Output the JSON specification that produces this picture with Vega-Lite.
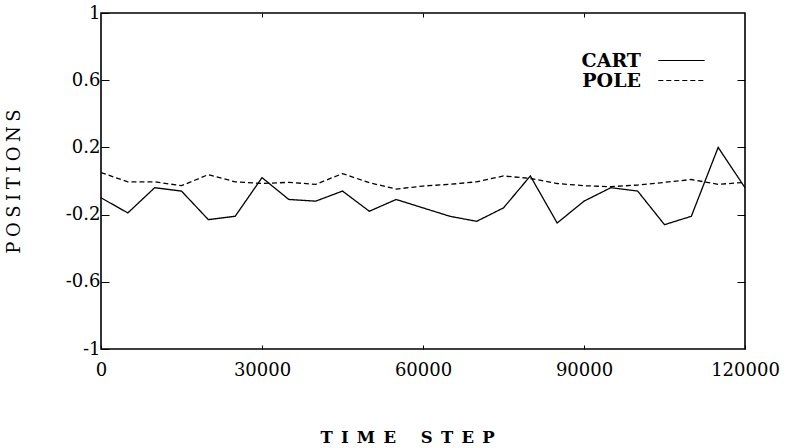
{
  "$schema": "https://vega.github.io/schema/vega-lite/v6.json",
  "width": 644,
  "height": 336,
  "autosize": "none",
  "padding": {"left": 101, "top": 13, "right": 48, "bottom": 99},
  "background": "white",
  "config": {
    "view": {"stroke": "black", "strokeWidth": 1.6},
    "font": "DejaVu Serif",
    "axis": {"domain": false, "grid": false, "tickColor": "black", "labelColor": "black", "titleColor": "black", "labelFont": "DejaVu Serif", "titleFont": "DejaVu Serif"}
  },
  "data": {
    "values": [
      {"step": 0, "series": "CART", "value": -0.10},
      {"step": 5000, "series": "CART", "value": -0.19},
      {"step": 10000, "series": "CART", "value": -0.04},
      {"step": 15000, "series": "CART", "value": -0.06},
      {"step": 20000, "series": "CART", "value": -0.23},
      {"step": 25000, "series": "CART", "value": -0.21},
      {"step": 30000, "series": "CART", "value": 0.02},
      {"step": 35000, "series": "CART", "value": -0.11},
      {"step": 40000, "series": "CART", "value": -0.12},
      {"step": 45000, "series": "CART", "value": -0.06},
      {"step": 50000, "series": "CART", "value": -0.18},
      {"step": 55000, "series": "CART", "value": -0.11},
      {"step": 60000, "series": "CART", "value": -0.16},
      {"step": 65000, "series": "CART", "value": -0.21},
      {"step": 70000, "series": "CART", "value": -0.24},
      {"step": 75000, "series": "CART", "value": -0.16},
      {"step": 80000, "series": "CART", "value": 0.03},
      {"step": 85000, "series": "CART", "value": -0.25},
      {"step": 90000, "series": "CART", "value": -0.12},
      {"step": 95000, "series": "CART", "value": -0.04},
      {"step": 100000, "series": "CART", "value": -0.06},
      {"step": 105000, "series": "CART", "value": -0.26},
      {"step": 110000, "series": "CART", "value": -0.21},
      {"step": 115000, "series": "CART", "value": 0.20},
      {"step": 120000, "series": "CART", "value": -0.04},
      {"step": 0, "series": "POLE", "value": 0.05},
      {"step": 5000, "series": "POLE", "value": -0.005},
      {"step": 10000, "series": "POLE", "value": -0.005},
      {"step": 15000, "series": "POLE", "value": -0.028},
      {"step": 20000, "series": "POLE", "value": 0.038},
      {"step": 25000, "series": "POLE", "value": -0.005},
      {"step": 30000, "series": "POLE", "value": -0.015},
      {"step": 35000, "series": "POLE", "value": -0.008},
      {"step": 40000, "series": "POLE", "value": -0.02},
      {"step": 45000, "series": "POLE", "value": 0.044},
      {"step": 50000, "series": "POLE", "value": -0.01},
      {"step": 55000, "series": "POLE", "value": -0.048},
      {"step": 60000, "series": "POLE", "value": -0.03},
      {"step": 65000, "series": "POLE", "value": -0.02},
      {"step": 70000, "series": "POLE", "value": -0.005},
      {"step": 75000, "series": "POLE", "value": 0.03},
      {"step": 80000, "series": "POLE", "value": 0.015},
      {"step": 85000, "series": "POLE", "value": -0.015},
      {"step": 90000, "series": "POLE", "value": -0.028},
      {"step": 95000, "series": "POLE", "value": -0.034},
      {"step": 100000, "series": "POLE", "value": -0.024},
      {"step": 105000, "series": "POLE", "value": -0.008},
      {"step": 110000, "series": "POLE", "value": 0.009},
      {"step": 115000, "series": "POLE", "value": -0.02},
      {"step": 120000, "series": "POLE", "value": -0.008}
    ]
  },
  "resolve": {"axis": {"x": "independent", "y": "independent"}},
  "layer": [
    {
      "mark": {"type": "line", "color": "black", "strokeWidth": 1.3},
      "encoding": {
        "x": {
          "field": "step", "type": "quantitative",
          "scale": {"domain": [0, 120000], "nice": false, "zero": false},
          "axis": {"values": [0, 30000, 60000, 90000, 120000], "labelExpr": "datum.value + ''", "tickSize": -4, "labelPadding": 16, "labelFontSize": 18, "labelBaseline": "top", "labelFlush": false, "title": "T\u2002I\u2002M\u2002E\u2003\u2002S\u2002T\u2002E\u2002P", "titleFontSize": 16.5, "titleFontWeight": "bold", "titleX": 306, "titleAlign": "center", "titleY": 93, "titleBaseline": "alphabetic"}
        },
        "y": {
          "field": "value", "type": "quantitative",
          "scale": {"domain": [-1, 1], "nice": false, "zero": false},
          "axis": {"values": [-1, -0.6, -0.2, 0.2, 0.6, 1], "labelExpr": "datum.value + ''", "tickSize": -8, "labelPadding": 9, "labelFontSize": 18, "labelFlush": false, "title": "P\u2005O\u2005S\u2005I\u2005T\u2005I\u2005O\u2005N\u2005S", "titleFontSize": 18, "titleFontWeight": "normal", "titleX": -87, "titleBaseline": "middle", "titleAngle": -90}
        },
        "strokeDash": {
          "field": "series", "type": "nominal",
          "scale": {"domain": ["CART", "POLE"], "range": [[1, 0], [5, 3]]},
          "legend": {"orient": "none", "legendX": 571, "legendY": 38, "title": null, "padding": 0, "symbolType": "M-2.9,0H2.9", "symbolSize": 256, "symbolStrokeWidth": 1.2, "symbolStrokeColor": "black", "symbolFillColor": "transparent", "labelAlign": "right", "labelOffset": -50, "labelFontSize": 19, "labelFontWeight": "bold", "labelFont": "DejaVu Serif", "labelColor": "black", "rowPadding": 0}
        }
      }
    },
    {
      "mark": {"type": "line", "opacity": 0},
      "encoding": {
        "x": {"field": "step", "type": "quantitative", "axis": {"orient": "top", "values": [30000, 60000, 90000], "tickSize": -4, "labels": false, "title": null}},
        "y": {"field": "value", "type": "quantitative", "axis": {"orient": "right", "values": [-0.6, -0.2, 0.2, 0.6], "tickSize": -8, "labels": false, "title": null}}
      }
    }
  ]
}
